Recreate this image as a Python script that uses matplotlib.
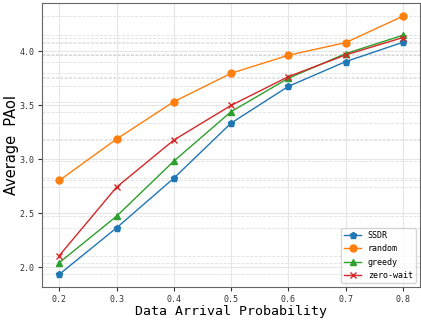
import matplotlib.pyplot as plt

plt.rcParams['font.family'] = ['DejaVu Sans Mono']

x = [0.2, 0.3, 0.4, 0.5, 0.6, 0.7, 0.8]
ssdr = [1.935, 2.365, 2.825, 3.335, 3.675, 3.904, 4.083]
random_ = [2.804, 3.187, 3.533, 3.796, 3.963, 4.080, 4.325]
greedy = [2.043, 2.473, 2.983, 3.441, 3.750, 3.978, 4.148]
zero_wait = [2.108, 2.742, 3.178, 3.499, 3.765, 3.966, 4.127]

fig, ax = plt.subplots(figsize=(4.21, 3.22), dpi=100)

ax.plot(x, ssdr, marker='p', markersize=5, linewidth=1, color='#1f77b4', label='SSDR')
ax.plot(x, random_, marker='o', markersize=5, linewidth=1, color='#ff7f0e', label='random')
ax.plot(x, greedy, marker='^', markersize=5, linewidth=1, color='#2ca02c', label='greedy')
ax.plot(x, zero_wait, marker='x', markersize=5, linewidth=1, color='#d62728', label='zero-wait')

# dashed reference lines at every data value
for series in (ssdr, random_, greedy, zero_wait):
    for v in series:
        ax.axhline(v, color='#cccccc', linestyle='--', linewidth=0.6, alpha=0.6, zorder=0)

ax.grid(True, color='#e6e6e6', linewidth=0.8, zorder=0)
ax.set_xticks(x)
ax.tick_params(labelsize=6, colors='#333333', length=3, pad=2.5)
for s in ax.spines.values():
    s.set_color('#666666')

ax.set_xlabel('Data Arrival Probability', fontsize=9.5, labelpad=1)
ax.set_ylabel('Average  PAoI', fontsize=10.5, family='DejaVu Sans')
ax.yaxis.set_label_coords(-0.062, 0.5)
ax.legend(loc='lower right', fontsize=6)

fig.subplots_adjust(left=0.1, right=0.998, top=0.99, bottom=0.108)
fig.savefig('out.png', dpi=100)
